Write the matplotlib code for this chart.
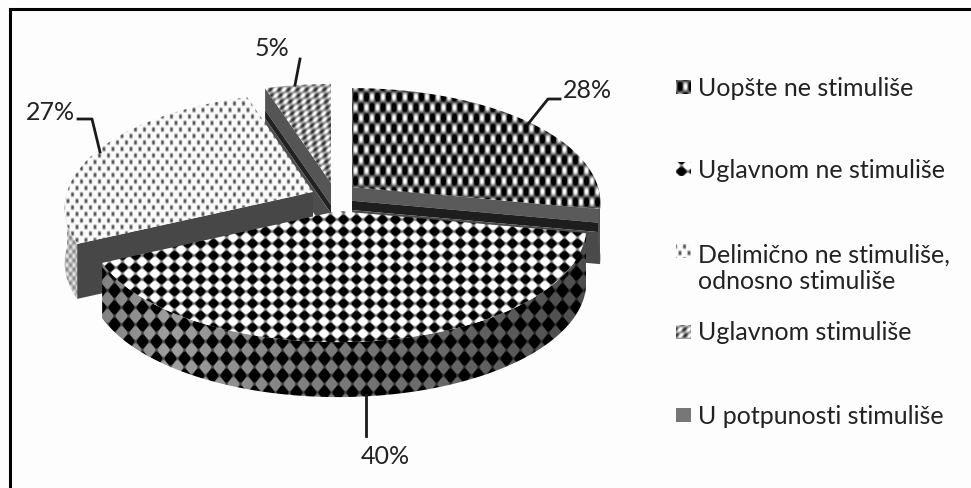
import numpy as np
import matplotlib
matplotlib.use('Agg')
import matplotlib.pyplot as plt
from matplotlib.patches import Polygon

plt.rcParams['font.family'] = ['Lato', 'DejaVu Sans']

# chart data
categories = ['Uopšte ne stimuliše', 'Uglavnom ne stimuliše',
              'Delimično ne stimuliše,\nodnosno stimuliše',
              'Uglavnom stimuliše', 'U potpunosti stimuliše']
values = [28, 40, 27, 5, 0]
value_labels = ['28%', '40%', '27%', '5%']

# pie shape, in pixels
RX = 246
RY = 115
PERSP = 0.14
DEPTH = 55
centers = [(352, 188), (338, 212), (313, 193), (331, 184)]

ends = np.cumsum(values) / 100 * 2 * np.pi
starts = ends - np.array(values) / 100 * 2 * np.pi


def project(c, a, depth=0):
	u = np.sin(a)
	v = -np.cos(a)
	s = 1 + PERSP * v
	return c[0] + RX * u * s, c[1] + RY * v * s + depth


def arc(c, a0, a1, depth=0, n=120):
	x, y = project(c, np.linspace(a0, a1, n), depth)
	return np.column_stack([x, y])


def wedge_poly(c, a0, a1):
	return np.vstack([[c], arc(c, a0, a1)])


def side_poly(c, a0, a1):
	return np.vstack([arc(c, a0, a1), arc(c, a0, a1, DEPTH)[::-1]])


# textures
def checker_dots(x, y):
	return 0.33 + 0.75 * np.cos(2 * np.pi * (x - 3) / 11) * np.cos(2 * np.pi * (y - 3) / 21)


def diamonds(x, y):
	m = np.cos(2 * np.pi * (x - 5) / 13) + np.cos(2 * np.pi * (y - 4) / 12)
	return 0.5 - 0.6 * np.tanh(1.8 * m)


def gray_dots(x, y):
	m = np.cos(2 * np.pi * x / 9) * np.cos(2 * np.pi * y / 13)
	return 0.98 - 0.7 * np.clip(m, 0, 1) ** 1.2


def slanted(x, y):
	xs = x + 0.6 * y
	m = np.cos(2 * np.pi * xs / 9) * np.cos(2 * np.pi * y / 12)
	return 0.62 + 0.45 * m


def side_diamonds(x, y):
	m = np.cos(2 * np.pi * (x - 2) / 14) + np.cos(2 * np.pi * (y - 2) / 17)
	base = np.interp(x, [100, 170, 300, 450, 583], [0.5, 0.62, 0.5, 0.4, 0.3])
	return base * (1 - np.clip(0.5 + 1.5 * m, 0, 1))


def light_side(x, y):
	return 0.72 + 0.2 * np.cos(2 * np.pi * x / 7) * np.cos(2 * np.pi * y / 9)


def fill_texture(ax, pts, func, zorder):
	pts = np.asarray(pts)
	x0, y0 = np.floor(pts.min(axis=0))
	x1, y1 = np.ceil(pts.max(axis=0))
	xx, yy = np.meshgrid(np.arange(x0, x1 + 1), np.arange(y0, y1 + 1))
	img = ax.imshow(np.clip(func(xx, yy), 0, 1), cmap='gray', vmin=0, vmax=1,
		extent=(x0 - 0.5, x1 + 0.5, y1 + 0.5, y0 - 0.5), interpolation='bilinear',
		aspect='auto', zorder=zorder)
	clip = Polygon(pts, closed=True, transform=ax.transData)
	img.set_clip_path(clip)


def cut_face(ax, c, a, bands, zorder):
	p = np.array(project(c, a))
	c = np.array(c, dtype=float)
	for f0, f1, col in bands:
		ax.add_patch(Polygon([c + [0, f0 * DEPTH], p + [0, f0 * DEPTH],
			p + [0, f1 * DEPTH], c + [0, f1 * DEPTH]], closed=True,
			facecolor=col, edgecolor='none', zorder=zorder))


fig = plt.figure(figsize=(9.71, 4.89), dpi=100, facecolor='#fdfdfd')
ax = fig.add_axes([0, 0, 1, 1])
ax.set_xlim(0, 971)
ax.set_ylim(489, 0)
ax.axis('off')

# frame, only top and left are in the picture
ax.plot([9.5, 9.5, 971], [489, 9.5, 9.5], color='black', lw=2.2,
	solid_joinstyle='miter', zorder=1)

# 5% slice, back
cut_face(ax, centers[3], starts[3], [(0, 0.4, '#555555'), (0.4, 0.55, '#222222'), (0.55, 1, '#4d4d4d')], 2)
fill_texture(ax, wedge_poly(centers[3], starts[3], ends[3]), slanted, 3)

# 28% slice
cut_face(ax, centers[0], ends[0], [(0, 0.25, '#5a5a5a'), (0.25, 0.42, '#1e1e1e'), (0.42, 1, '#4a4a4a')], 4)
ax.add_patch(Polygon(side_poly(centers[0], np.pi / 2, ends[0]), closed=True,
	facecolor='#555555', edgecolor='none', zorder=4))
fill_texture(ax, wedge_poly(centers[0], starts[0], ends[0]), checker_dots, 5)

# 27% slice
cut_face(ax, centers[2], starts[2], [(0, 1, '#474747')], 6)
fill_texture(ax, side_poly(centers[2], starts[2], 1.5 * np.pi), light_side, 6)
fill_texture(ax, wedge_poly(centers[2], starts[2], ends[2]), gray_dots, 7)

# 40% slice, front
fill_texture(ax, side_poly(centers[1], starts[1], ends[1]), side_diamonds, 8)
fill_texture(ax, wedge_poly(centers[1], starts[1], ends[1]), diamonds, 9)

# leader lines and value labels
leaders = [([528, 548, 560], [125, 100, 100]), ([366, 366], [396, 437]),
	([78, 92, 100], [120, 120, 153]), ([300, 295], [60, 86])]
label_pos = [(587, 91), (385, 456), (50, 113), (272, 48)]
for (lx, ly), (tx, ty), txt in zip(leaders, label_pos, value_labels):
	ax.plot(lx, ly, color='#1a1a1a', lw=2.0, zorder=10)
	ax.text(tx, ty, txt, fontsize=18, color='#222222', ha='center', va='center', zorder=11)

# legend
legend_y = [88, 170, 252, 333, 416]
legend_text_y = [88, 170, 268, 333, 416]
legend_fill = [checker_dots, diamonds, gray_dots, slanted, None]
for name, my, ty, fn in zip(categories, legend_y, legend_text_y, legend_fill):
	sq = [(676, my - 7), (691, my - 7), (691, my + 7), (676, my + 7)]
	if fn is None:
		ax.add_patch(Polygon(sq, closed=True, facecolor='#777777', edgecolor='none', zorder=5))
	else:
		fill_texture(ax, sq, fn, 5)
	ax.text(698, ty, name, fontsize=18, color='#222222', ha='left', va='center',
		linespacing=1.2, zorder=11)

ax.set_xlim(0, 971)
ax.set_ylim(489, 0)
fig.savefig('out.png', dpi=100, facecolor=fig.get_facecolor())
